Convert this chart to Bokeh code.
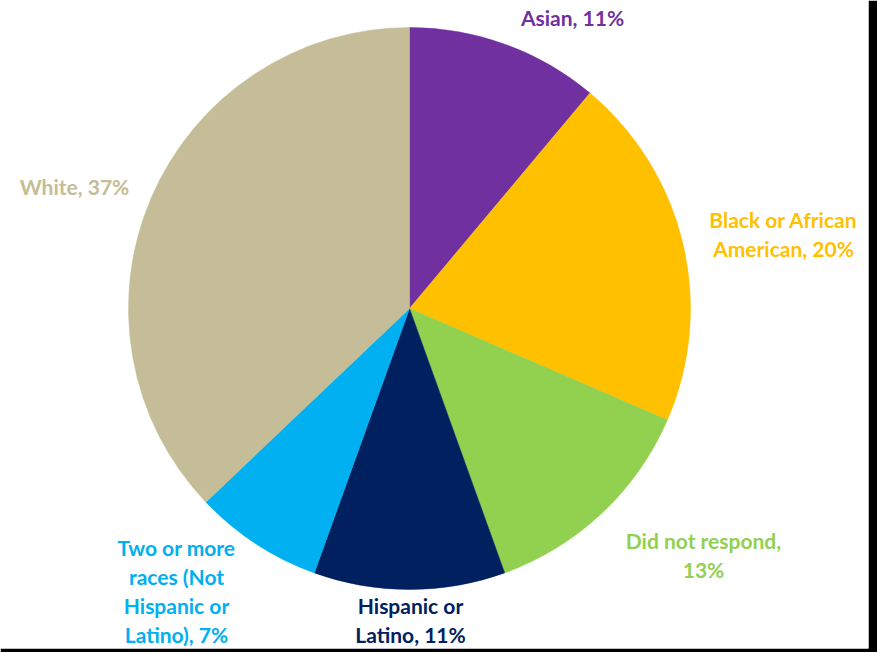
import numpy as np
from bokeh.plotting import figure
from bokeh.models import Range1d, ColumnDataSource
from bokeh.core.properties import value
from bokeh.embed import file_html
from bokeh.resources import INLINE

# Survey respondents by race / ethnicity (share of total, %)
categories = ["Asian", "Black or African American", "Did not respond",
              "Hispanic or Latino", "Two or more races (Not Hispanic or Latino)", "White"]
shares = [11.1, 20.4, 13.0, 11.0, 7.4, 37.1]
colors = ["#7030A0", "#FFC000", "#92D050", "#002060", "#00B0F0", "#C4BD97"]

# Label text split into lines (the percentage is appended from the data)
label_lines = [
    ["Asian, {}%"],
    ["Black or African", "American, {}%"],
    ["Did not respond,", "{}%"],
    ["Hispanic or", "Latino, {}%"],
    ["Two or more", "races (Not", "Hispanic or", "Latino), {}%"],
    ["White, {}%"],
]
# Anchor (x, y of the first line's centre) for each label, in page pixels
label_anchor = [(572, 17), (783, 219), (703, 540), (410, 605), (176, 547), (74, 186)]

W, H = 868, 648
cx, cy, r = 409, H - 308, 281

frac = np.array(shares) / sum(shares)
cum = np.concatenate([[0], np.cumsum(frac)])
start = np.pi / 2 - 2 * np.pi * cum[1:]
end = np.pi / 2 - 2 * np.pi * cum[:-1]

src = ColumnDataSource(dict(cat=categories, start=start, end=end, color=colors))

p = figure(frame_width=W, frame_height=H, output_backend="svg", toolbar_location=None,
           x_range=Range1d(0, W), y_range=Range1d(0, H),
           min_border_left=0, min_border_top=0, min_border_right=9, min_border_bottom=4)
p.axis.visible = False
p.grid.visible = False
p.outline_line_color = None
p.border_fill_color = "black"
p.background_fill_color = "white"

p.wedge(x=cx, y=cy, radius=r, start_angle="start", end_angle="end",
        color="color", line_color="color", line_width=0.5, source=src)

lx, ly, lt, lc = [], [], [], []
for lines, (ax, ay), s, c in zip(label_lines, label_anchor, shares, colors):
    for i, ln in enumerate(lines):
        lx.append(ax)
        ly.append(H - (ay + i * 29))
        lt.append(ln.format(int(round(s))))
        lc.append(c)

p.text(x=lx, y=ly, text=lt, text_color=lc, text_align="center", text_baseline="middle",
       text_font=value("Lato"), text_font_style="bold", text_font_size="21px")

open("out.html", "w").write(file_html(p, INLINE))
